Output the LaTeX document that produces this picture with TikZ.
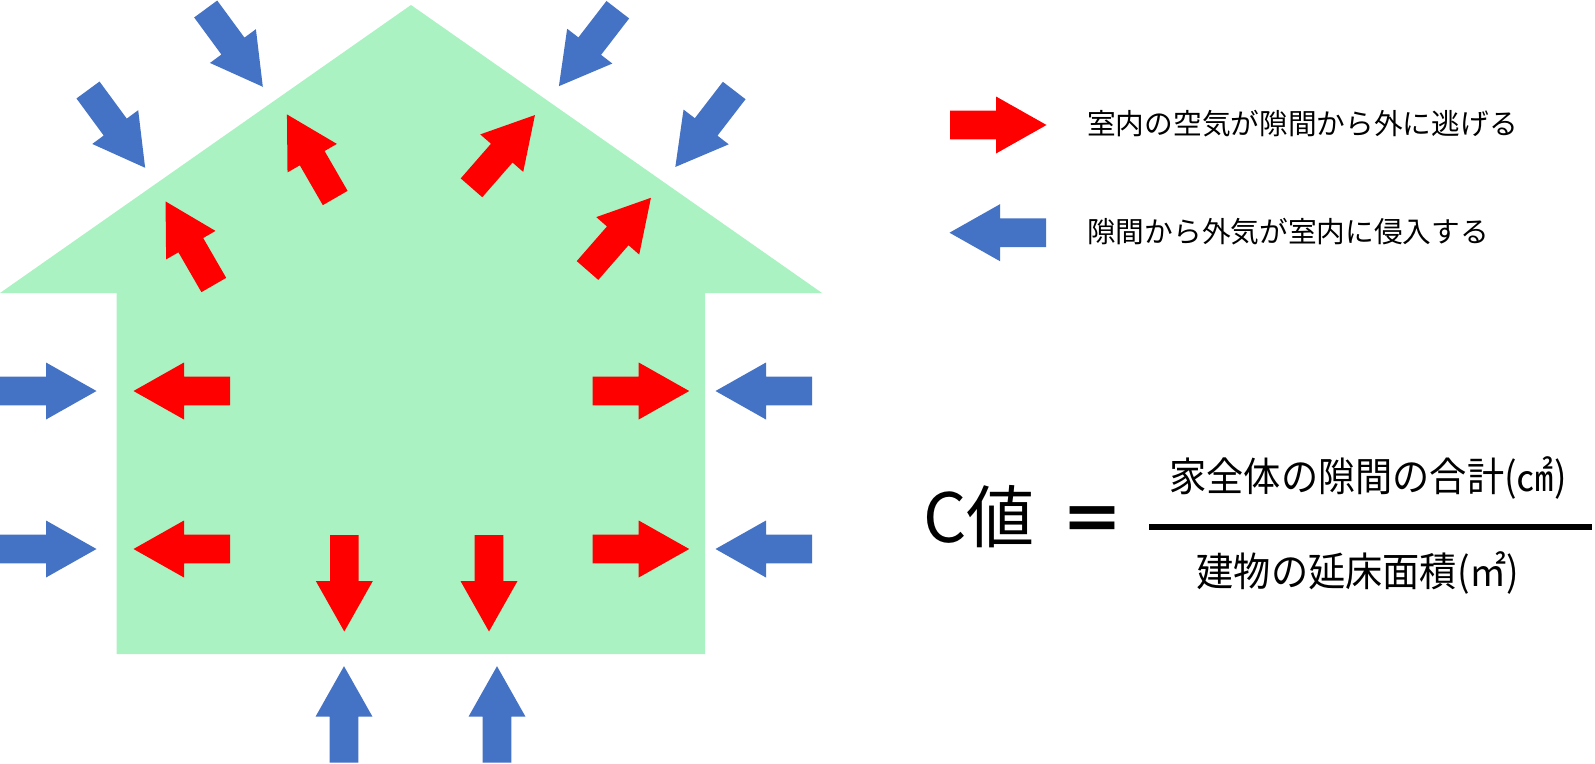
\documentclass[tikz,border=0pt]{standalone}
\usepackage{fontspec}
\newfontfamily\cjk{Noto Sans CJK JP}
\newfontfamily\cjkn[FakeStretch=0.93]{Noto Sans CJK JP}
\definecolor{housegreen}{RGB}{171,242,194}
\definecolor{arrowblue}{RGB}{68,114,196}
\definecolor{arrowred}{RGB}{255,0,0}
\tikzset{
  blockarrow/.pic={\path[pic actions] (0,-14.3) -- (46,-14.3) -- (46,-28.5) -- (96.5,0) -- (46,28.5) -- (46,14.3) -- (0,14.3) -- cycle;},
  inflow/.style={fill=arrowblue},
  outflow/.style={fill=arrowred},
  legendtext/.style={anchor=west, inner sep=0pt, font=\cjk\fontsize{28.7}{32}\selectfont},
  fractext/.style={inner sep=0pt, font=\cjkn\fontsize{40}{42}\selectfont}
}
\begin{document}
\begin{tikzpicture}[x=1pt,y=-1pt]
\fill[white] (0,0) rectangle (1595,763);
\useasboundingbox (0,0) rectangle (1595,763);
% house
\fill[housegreen] (0,293) -- (411,5) -- (822,293) -- (705,293) -- (705,654) -- (116.7,654) -- (116.7,293) -- cycle;
% blue arrows on the roof
\pic[inflow, rotate=-53.7] at (205.7,9) {blockarrow};
\pic[inflow, rotate=-53.7] at (88,90) {blockarrow};
\pic[inflow, rotate=-127.6] at (617.8,9.7) {blockarrow};
\pic[inflow, rotate=-127.6] at (734.2,90.5) {blockarrow};
% red arrows in the roof
\pic[outflow, rotate=120] at (335.2,198) {blockarrow};
\pic[outflow, rotate=120] at (213.8,285) {blockarrow};
\pic[outflow, rotate=48.9] at (471.5,187.8) {blockarrow};
\pic[outflow, rotate=48.9] at (587.5,270.5) {blockarrow};
% side arrows
\foreach \yy in {391,549} {
  \pic[inflow] at (0,\yy) {blockarrow};
  \pic[outflow, rotate=180] at (230,\yy) {blockarrow};
  \pic[outflow] at (592.7,\yy) {blockarrow};
  \pic[inflow, rotate=180] at (812,\yy) {blockarrow};
}
% bottom arrows
\pic[outflow, rotate=-90] at (344.3,535) {blockarrow};
\pic[outflow, rotate=-90] at (489,535) {blockarrow};
\pic[inflow, rotate=90] at (344,762.7) {blockarrow};
\pic[inflow, rotate=90] at (497,762.7) {blockarrow};
% legend
\pic[outflow] at (950,125) {blockarrow};
\pic[inflow, rotate=180] at (1046,232.7) {blockarrow};
\node[legendtext] (leg1) at (1087,124) {室内の空気が隙間から外に逃げる};
\node[legendtext] (leg2) at (1087,232) {隙間から外気が室内に侵入する};
% formula
\node[anchor=base west, inner sep=0pt, font=\cjk\fontsize{68}{70}\selectfont] (cval) at (923,542) {C値};
\node[inner sep=0pt, font=\cjk\bfseries\fontsize{64}{66}\selectfont] (eq) at (1092.5,525) {＝};
\draw[line width=6pt] (1149,526.5) coordinate (fl) -- (1592,526.5) coordinate (fr);
\node[fractext] (num) at (1368,477.5) {家全体の隙間の合計(㎠)};
\node[fractext] (den) at (1358,572.5) {建物の延床面積(㎡)};
\end{tikzpicture}
\end{document}
